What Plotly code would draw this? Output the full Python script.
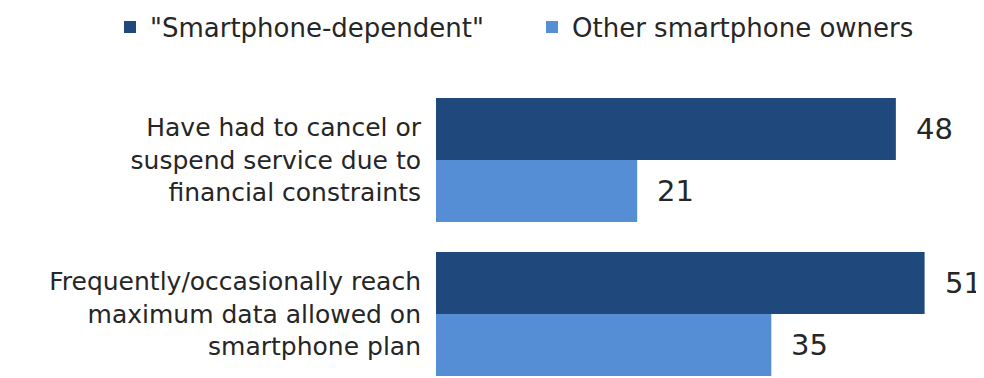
import plotly.graph_objects as go

categories = [
    "Have had to cancel or<br>suspend service due to<br>financial constraints",
    "Frequently/occasionally reach<br>maximum data allowed on<br>smartphone plan",
]
series_names = ['"Smartphone-dependent"', "Other smartphone owners"]
dependent = [48, 51]
other = [21, 35]
colors = ["#1F497D", "#558ED5"]
legend_ids = ["legend", "legend2"]

FONT = "DejaVu Sans"
TXT = "#262626"
fig = go.Figure()
for name, vals, col, lg in zip(series_names, [dependent, other], colors, legend_ids):
    fig.add_trace(go.Bar(
        y=categories, x=vals, name=name, orientation="h",
        marker=dict(color=col, line=dict(width=0)),
        hoverinfo="skip", legend=lg,
    ))

for vals, shift in [(dependent, 31), (other, -31)]:
    for c, v in zip(categories, vals):
        fig.add_annotation(x=v, y=c, text=str(v), showarrow=False,
                           xanchor="left", xshift=18, yshift=shift,
                           font=dict(family=FONT, size=29, color=TXT))

legend_style = dict(orientation="h", xanchor="left", xref="container",
                    y=1 - 19 / 370, yanchor="middle", yref="container",
                    font=dict(family=FONT, size=26, color=TXT),
                    itemwidth=30, bgcolor="rgba(0,0,0,0)")

# page body has an 8px margin, so the figure is 976x370 placed at (8, 8)
fig.update_layout(
    width=976, height=370,
    margin=dict(l=428, r=0, t=75, b=0, pad=0, autoexpand=False),
    paper_bgcolor="white", plot_bgcolor="white",
    barmode="group", bargap=0.195, bargroupgap=0,
    font=dict(family=FONT, size=25, color=TXT),
    showlegend=True,
    legend=dict(x=102 / 976, **legend_style),
    legend2=dict(x=524 / 976, **legend_style),
    xaxis=dict(range=[0, 57.2], showgrid=False, zeroline=False, showticklabels=False,
               showline=False, fixedrange=True),
    yaxis=dict(range=[1.416, -0.5], showgrid=False, zeroline=False, showline=False,
               ticks="", ticklabelstandoff=14, fixedrange=True,
               tickfont=dict(family=FONT, size=25, color=TXT)),
)
fig.write_html("out.html")
